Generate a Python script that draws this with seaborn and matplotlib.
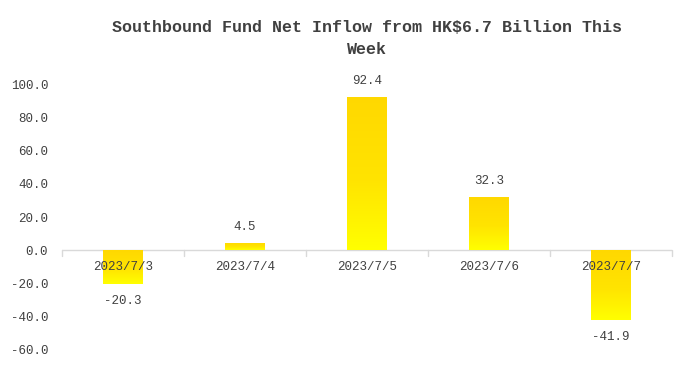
"""
南向资金净流入柱状图（渐变填充）
"""

import numpy as np
import pandas as pd
import matplotlib
matplotlib.use('Agg')
import matplotlib.pyplot as plt
from matplotlib.colors import LinearSegmentedColormap
import seaborn as sns

# 数据
dates = ['2023/7/3', '2023/7/4', '2023/7/5', '2023/7/6', '2023/7/7']
inflow = [-20.3, 4.5, 92.4, 32.3, -41.9]
y_ticks = [-60, -40, -20, 0, 20, 40, 60, 80, 100]
title = 'Southbound Fund Net Inflow from HK\\$6.7 Billion This\nWeek'

df = pd.DataFrame({'date': dates, 'value': inflow})

sns.set_theme(style='white')
plt.rcParams['font.family'] = ['Liberation Mono', 'DejaVu Sans Mono']
text_color = '#404040'

fig = plt.figure(figsize=(6.92, 3.69), dpi=100)
ax = fig.add_axes([0.0896, 0.0515, 0.8814, 0.7205])

sns.barplot(data=df, x='date', y='value', ax=ax, width=0.32,
            color='#FFD700', saturation=1, linewidth=0)

# 渐变填充：顶部金色到底部黄色
cmap = LinearSegmentedColormap.from_list(
    'gold_yellow', [(0, '#FFFF00'), (0.45, '#FFE400'), (1, '#FFD800')])
grad = np.linspace(0, 1, 256).reshape(-1, 1)
for p in ax.patches:
    x0, y0 = p.get_x(), p.get_y()
    w, h = p.get_width(), p.get_height()
    lo, hi = min(y0, y0 + h), max(y0, y0 + h)
    im = ax.imshow(grad, cmap=cmap, origin='lower', aspect='auto',
                   extent=[x0, x0 + w, lo, hi], zorder=2)
    im.set_clip_path(p)
    p.set_facecolor('none')

ax.set_xlim(-0.5, len(dates) - 0.5)
ax.set_ylim(-60, 100)
ax.set_yticks(y_ticks)
ax.set_yticklabels([f'{v:.1f}' for v in y_ticks], fontsize=9, color=text_color)
ax.tick_params(axis='y', length=0, pad=10)
ax.set_xticks([])
ax.set_xlabel('')
ax.set_ylabel('')
for s in ax.spines.values():
    s.set_visible(False)

# 零线及分隔刻度
ax.axhline(0, color='#d9d9d9', lw=1, zorder=1)
for b in np.arange(-0.5, len(dates), 1):
    ax.plot([b, b], [0, -3.2], color='#d9d9d9', lw=1, zorder=1, clip_on=False)

# 类别标签
for i, d in enumerate(dates):
    ax.annotate(d, (i, 0), xytext=(0, -8), textcoords='offset points',
                ha='center', va='top', fontsize=9, color=text_color, zorder=3)

# 数值标签
for i, v in enumerate(inflow):
    off = 7 if v >= 0 else -8
    ax.annotate(f'{v:.1f}', (i, v), xytext=(0, off), textcoords='offset points',
                ha='center', va='bottom' if v >= 0 else 'top',
                fontsize=9, color=text_color, zorder=3)

fig.text(0.530, 0.945, title, ha='center', va='top', fontsize=12,
         fontweight='bold', color=text_color, linespacing=1.55)

fig.savefig('out.png', dpi=100)
